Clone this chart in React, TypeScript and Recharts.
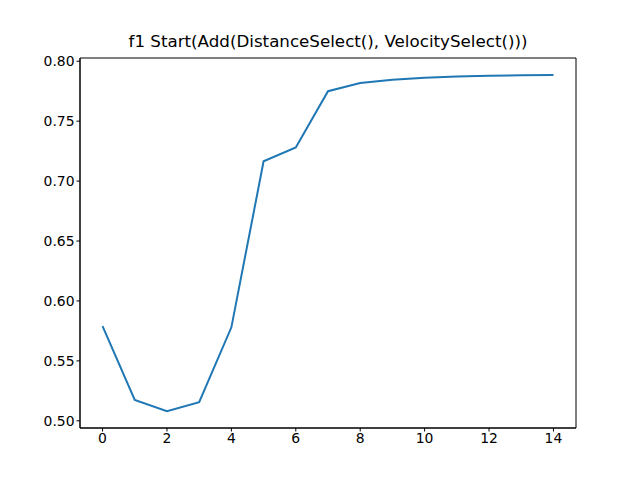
import { LineChart, Line, XAxis, YAxis, ReferenceArea } from "recharts"

const steps = [0, 1, 2, 3, 4, 5, 6, 7, 8, 9, 10, 11, 12, 13, 14]
const scores = [0.579, 0.5175, 0.508, 0.5155, 0.578, 0.7165, 0.728, 0.775, 0.7818, 0.7845, 0.7862, 0.7872, 0.7878, 0.7883, 0.7885]
const xTicks = [0, 2, 4, 6, 8, 10, 12, 14]
const yTicks = [0.5, 0.55, 0.6, 0.65, 0.7, 0.75, 0.8]

const data = steps.map((s, i) => ({ step: s, score: scores[i] }))

const X_DOMAIN: [number, number] = [-0.7, 14.7]
const Y_DOMAIN: [number, number] = [0.494, 0.8027]

const tickStyle = { fontSize: 13.9, fill: "#000", fontFamily: "DejaVu Sans" }

export default function App() {
  return (
    <div style={{ position: "absolute", left: 0, top: 0, width: 640, height: 480, background: "#fff", fontFamily: "DejaVu Sans" }}>
      <div style={{ position: "absolute", top: 31, left: 80, width: 496, textAlign: "center", fontSize: 16.7, color: "#000" }}>
        f1 Start(Add(DistanceSelect(), VelocitySelect()))
      </div>
      <LineChart width={640} height={480} data={data} margin={{ top: 58, right: 64, bottom: 22, left: 30 }}>
        <XAxis
          dataKey="step"
          type="number"
          domain={X_DOMAIN}
          ticks={xTicks}
          tick={tickStyle}
          tickSize={3.5}
          tickLine={{ stroke: "#000" }}
          axisLine={{ stroke: "#000" }}
          height={30}
          allowDataOverflow
        />
        <YAxis
          type="number"
          domain={Y_DOMAIN}
          ticks={yTicks}
          tick={tickStyle}
          tickSize={3.5}
          tickLine={{ stroke: "#000" }}
          axisLine={{ stroke: "#000" }}
          tickFormatter={(v: number) => v.toFixed(2)}
          width={50}
          allowDataOverflow
        />
        <ReferenceArea x1={X_DOMAIN[0]} x2={X_DOMAIN[1]} y1={Y_DOMAIN[0]} y2={Y_DOMAIN[1]} stroke="#000" strokeWidth={1} fill="none" fillOpacity={0} />
        <Line type="linear" dataKey="score" stroke="#1f77b4" strokeWidth={2} dot={false} isAnimationActive={false} />
      </LineChart>
    </div>
  )
}
